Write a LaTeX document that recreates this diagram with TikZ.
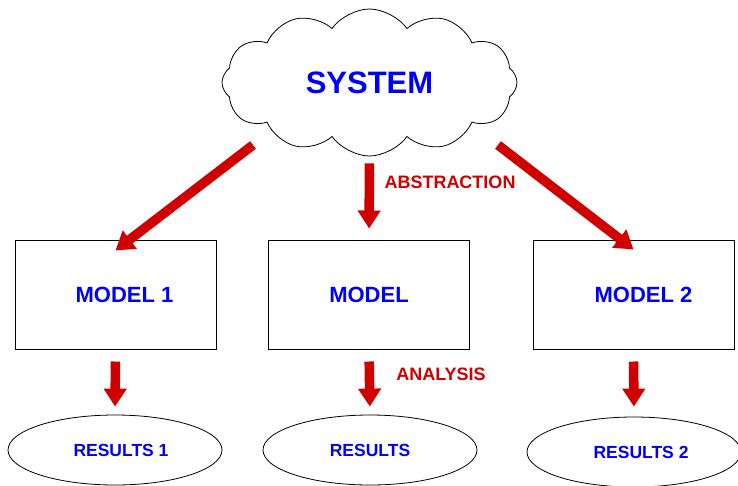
\documentclass[tikz,border=0pt]{standalone}
\usepackage{fontspec}
\setmainfont{Liberation Sans}
\usepackage{tikz}
\usetikzlibrary{
    arrows.meta,
    shapes.geometric,
    shapes.symbols
}

\definecolor{arrowred}{RGB}{208,0,0}
\definecolor{textblue}{RGB}{0,0,250}

\tikzset{
    bigarrow/.style={arrowred, line width=9.5pt, -{Triangle[length=18pt,width=22pt]}},
    modelbox/.style={draw, line width=1pt, minimum width=201pt, minimum height=109pt, inner sep=0pt},
    resultell/.style={draw, ellipse, line width=0.8pt, minimum width=214pt, minimum height=70pt, inner sep=0pt},
    bluetxt/.style={textblue, font=\bfseries\fontsize{22}{22}\selectfont},
    smalltxt/.style={textblue, font=\bfseries\fontsize{17.5}{17.5}\selectfont},
    redtxt/.style={arrowred, font=\bfseries\fontsize{18}{18}\selectfont}
}

\begin{document}
\begin{tikzpicture}[x=1pt, y=-1pt]
        \useasboundingbox (0,0) rectangle (738,485);

        % The system on top
        \node[draw, cloud, cloud puffs=12, cloud puff arc=110, aspect=2, line width=0.8pt,
              minimum width=295pt, minimum height=147pt, inner sep=0pt,
              text=textblue, font=\bfseries\fontsize{31}{31}\selectfont]
              (sys) at (369.5,82.5) {SYSTEM};

        % Models
        \node[modelbox, label={[bluetxt, xshift=9pt]center:MODEL 1}] (m1) at (115.5,294.5) {};
        \node[modelbox, label={[bluetxt]center:MODEL}] (m) at (369,294.5) {};
        \node[modelbox, label={[bluetxt, xshift=10pt]center:MODEL 2}] (m2) at (633.5,294.5) {};

        % Results
        \node[resultell, label={[smalltxt, xshift=6pt]center:RESULTS 1}] (r1) at (115,450) {};
        \node[resultell, label={[smalltxt]center:RESULTS}] (r) at (370,450) {};
        \node[resultell, label={[smalltxt, xshift=7pt]center:RESULTS 2}] (r2) at (634,452) {};

        % Start points of the slanted arrows below the cloud
        \coordinate (sysl) at (253,145);
        \coordinate (sysr) at (498,145);

        % Abstraction arrows
        \draw[bigarrow] (sysl) -- ([yshift=-11pt]m1.north);
        \draw[bigarrow, shorten <=7pt, shorten >=11pt] (sys.south) -- (m.north);
        \draw[bigarrow] (sysr) -- ([yshift=-10pt]m2.north);

        % Analysis arrows
        \draw[bigarrow, shorten <=12pt, shorten >=8pt] (m1.south) -- (r1.north);
        \draw[bigarrow, shorten <=12pt, shorten >=8pt] (m.south) -- (r.north);
        \draw[bigarrow, shorten <=12pt, shorten >=10pt] (m2.south) -- (r2.north);

        % Labels
        \node[redtxt] (abstr) at (450,182) {ABSTRACTION};
        \node[redtxt] (anal) at (441,374) {ANALYSIS};
    \end{tikzpicture}
\end{document}
